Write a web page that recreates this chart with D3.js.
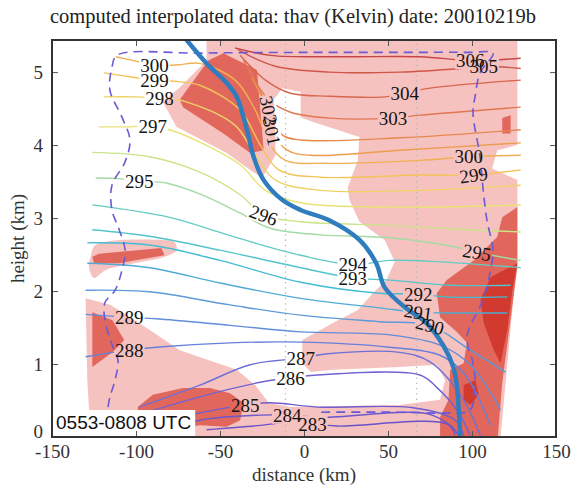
<!DOCTYPE html>
<html>
<head>
<meta charset="utf-8">
<script src="https://cdn.jsdelivr.net/npm/d3@7"></script>
<style>
  body { margin: 0; background: #fff; }
  svg text { font-family: "Liberation Serif", "Times New Roman", serif; }
</style>
</head>
<body>
<svg id="chart"></svg>
<script>
// ---- data (distance km, height km) ----
const xTicks = [-150, -100, -50, 0, 50, 100, 150];
const yTicks = [0, 1, 2, 3, 4, 5];
const levels = [283, 284, 285, 286, 287, 288, 289, 290, 291, 292, 293, 294, 295, 296, 297, 298, 299, 300, 301, 302, 303, 304, 305, 306];

// isentropes, one polyline per level
const th283 = [[-58,0.10],[-26,0.16],[-5,0.21],[5,0.18],[20,0.15],[85,0.18],[90,0.03]];
const th284 = [[-86,0.05],[-62,0.23],[-26,0.30],[-10,0.30],[11,0.27],[73,0.32],[87,0.16],[92,0.02]];
const th285 = [[-99,0.16],[-62,0.33],[-35,0.44],[-20,0.47],[8,0.41],[65,0.40],[90,0.23],[95,0.02]];
const th286 = [[-105,0.26],[-62,0.55],[-26,0.75],[-8,0.81],[8,0.85],[69,0.85],[79,0.68],[91,0.37],[99,0.02]];
const th287 = [[-98,0.41],[-62,0.71],[-32,0.99],[-2,1.08],[14,1.14],[57,1.16],[75,1.03],[93,0.58],[105,0.02]];
const th288 = [[-130,1.10],[-114,1.16],[-104,1.19],[-88,1.23],[-44,1.29],[-2,1.30],[51,1.23],[81,1.12],[96,0.85],[111,0.16]];
const th289 = [[-130,1.68],[-104,1.64],[-88,1.62],[-44,1.53],[-2,1.44],[51,1.40],[81,1.26],[99,0.99],[117,0.37]];
const th290 = [[-130,2.01],[-92,1.99],[-44,1.81],[-2,1.67],[45,1.58],[75,1.53],[99,1.19],[120,0.89]];
const th291 = [[-129,2.38],[-92,2.32],[-50,2.11],[-2,1.90],[45,1.77],[68,1.71],[84,1.70],[121,1.70]];
const th292 = [[-129,2.66],[-92,2.63],[-50,2.42],[-2,2.12],[45,1.97],[68,1.96],[84,1.92],[121,1.92]];
const th293 = [[-126,2.84],[-92,2.75],[-50,2.56],[-2,2.32],[29,2.18],[51,2.15],[87,2.08],[123,2.08]];
const th294 = [[-126,3.18],[-80,3.01],[-51,2.81],[-31,2.67],[-2,2.49],[29,2.36],[51,2.42],[81,2.40],[129,2.32]];
const th295 = [[-124,3.55],[-110,3.54],[-98,3.51],[-82,3.48],[-61,3.32],[-39,3.08],[-20,2.86],[10,2.77],[51,2.73],[91,2.60],[103,2.53],[129,2.42]];
const th296 = [[-126,3.90],[-92,3.84],[-62,3.63],[-38,3.32],[-24,3.04],[-2,2.95],[51,2.90],[81,2.86],[129,2.81]];
const th297 = [[-122,4.25],[-104,4.25],[-90,4.26],[-80,4.21],[-62,4.04],[-38,3.73],[-23,3.38],[-2,3.21],[57,3.15],[129,3.18]];
const th298 = [[-119,4.66],[-100,4.66],[-86,4.64],[-71,4.60],[-41,4.27],[-29,3.86],[-17,3.52],[10,3.38],[69,3.38],[129,3.45]];
const th299 = [[-119,4.99],[-102,4.93],[-89,4.89],[-75,4.87],[-62,4.82],[-38,4.48],[-26,4.00],[-15,3.66],[10,3.56],[69,3.59],[101,3.59],[129,3.66]];
const th300 = [[-112,5.21],[-100,5.15],[-89,5.09],[-75,5.10],[-62,5.12],[-41,4.89],[-29,4.48],[-20,4.00],[-11,3.79],[15,3.75],[69,3.79],[98,3.84],[129,3.86]];
const th301 = [[-31,4.92],[-23,4.55],[-19,4.19],[-10,3.93],[4,3.86],[57,3.93],[129,4.03]];
const th302 = [[-33,5.05],[-25,4.68],[-21,4.48],[-13,4.14],[-2,4.07],[57,4.10],[129,4.21]];
const th303 = [[-36,5.16],[-21,4.62],[-8,4.45],[15,4.37],[53,4.37],[69,4.41],[129,4.52]];
const th304 = [[-38,5.23],[-23,4.89],[-8,4.71],[15,4.67],[48,4.66],[60,4.71],[75,4.78],[129,4.89]];
const th305 = [[-39,5.30],[-17,5.08],[15,5.00],[57,5.00],[93,5.05],[107,5.08],[129,5.05]];
const th306 = [[-41,5.33],[-20,5.23],[21,5.21],[69,5.21],[99,5.16],[129,5.19]];
const isolines = [th283, th284, th285, th286, th287, th288, th289, th290, th291, th292, th293, th294,
                  th295, th296, th297, th298, th299, th300, th301, th302, th303, th304, th305, th306];

// contour labels
const labelText = ['283','284','285','286','287','288','289','290','291','292','293','294','295','295','296',
                   '297','298','299','299','300','300','301','302','303','304','305','306'];
const labelAt = [[5,0.18],[-10,0.30],[-35,0.44],[-8,0.81],[-2,1.08],[-104,1.19],[-104,1.64],[75,1.53],[68,1.71],
                 [68,1.96],[29,2.18],[29,2.36],[-98,3.51],[103,2.53],[-24,3.04],[-90,4.26],[-86,4.64],[-89,4.89],
                 [101,3.59],[-89,5.09],[98,3.84],[-19,4.19],[-21,4.48],[53,4.37],[60,4.71],[107,5.08],[99,5.16]];
const labelTilt = [0,0,0,0,0,0,0,15,8,0,0,0,0,10,20,0,0,0,-8,0,0,78,78,0,0,0,0];

// shaded areas
const pinkMain = [[-58,5.5],[127,5.5],[127,4.00],[115,3.93],[112,3.68],[127,3.52],[127,2.49],[117,0],[-127,0],
  [-129,0.78],[-130,1.90],[-115,1.81],[-92,1.47],[-74,1.19],[-40,0.92],[-29,0.71],[-21,0.47],[-8,0.41],[57,0.44],
  [81,0.51],[84,0.78],[79,0.99],[57,0.96],[17,0.92],[4,0.89],[-1,1.01],[-1,1.33],[17,1.56],[32,1.74],[41,1.97],
  [49,2.15],[54,2.40],[48,2.70],[33,2.95],[27,3.25],[26,3.42],[32,3.79],[33,4.11],[5,4.32],[-2,4.38],[-2,4.73],
  [-13,4.78],[-18,4.62],[-17,4.21],[-17,3.86],[-25,3.55],[-32,3.66],[-46,3.89],[-76,4.25],[-84,4.59],[-74,4.79],[-58,5.16]];
const pinkLeft = [[-127,2.47],[-124,2.63],[-85,2.70],[-77,2.67],[-76,2.56],[-83,2.47],[-101,2.38],[-118,2.29],[-125,2.18],[-128,2.33]];
const redLeft = [[-126,2.47],[-122,2.51],[-85,2.59],[-83,2.49],[-101,2.42],[-110,2.38],[-125,2.38]];
const redTopLeft = [[-74,4.62],[-57,5.16],[-48,5.26],[-28,5.03],[-24,3.93],[-32,3.89],[-48,4.16],[-72,4.52]];
const redRight = [[127,3.15],[118,3.01],[115,2.74],[101,2.42],[85,2.15],[79,1.97],[81,1.64],[91,1.44],[97,1.29],
  [95,1.01],[87,0.92],[86,0.51],[81,0.27],[81,-0.1],[115,-0.1],[118,0.74],[127,2.33]];
const redTopRight = [[118,4.37],[123,4.41],[123,4.16],[118,4.16]];
const redLowLeft = [[-126,1.71],[-114,1.60],[-107,1.33],[-114,1.16],[-126,0.96]];
const redBottom = [[-99,0.41],[-90,0.58],[-72,0.67],[-56,0.67],[-44,0.60],[-36,0.47],[-38,0.23],[-46,0.14],[-62,0.16],[-80,0.10],[-98,0.16]];
const darkRight = [[127,2.38],[111,2.19],[105,1.88],[107,1.56],[113,1.19],[117,1.01],[121,1.47],[124,2.01]];
const darkSpot = [[95,0.71],[102,0.78],[104,0.58],[99,0.44],[95,0.51]];

// moving boundary (dashed), front (thick blue), dotted sounding columns
const boundary = [[-116.7,0.41],[-115.5,0.55],[-112.5,0.78],[-110.7,1.05],[-113.7,1.23],[-118.5,1.60],[-118.5,1.84],
  [-112.5,2.01],[-108.3,2.29],[-106.5,2.56],[-110,2.84],[-114.3,3.11],[-114.3,3.45],[-106.5,3.77],[-103.6,4.07],
  [-108.3,4.38],[-115.5,4.75],[-114.3,5.07],[-111.3,5.23],[-62,5.26],[-2,5.27],[57,5.27],[99,5.27],[112.5,5.26],
  [104.8,4.99],[101.8,4.66],[100.6,4.44],[104.8,3.84],[106.5,3.42],[108.9,2.97],[112.5,2.56],[110.7,2.25],
  [106.5,1.88],[97,1.37],[100.6,1.01],[101.8,0.74],[98.8,0.37],[85.1,0.33],[57,0.34],[7.7,0.34]];
const front = [[-72,5.5],[-58,5.12],[-46,4.85],[-40,4.66],[-34,4.21],[-30,3.84],[-24,3.52],[-13,3.25],[-2,3.11],
  [15,2.97],[33,2.70],[43,2.38],[48,2.05],[61,1.76],[72,1.58],[83,1.25],[89,0.95],[91,0.70],[93,-0.05]];
const columns = [-11, 67];

// ---- drawing ----
const W = 571, H = 486;
const m = {left: 52, right: 15, top: 40, bottom: 49};
const svg = d3.select("#chart").attr("width", W).attr("height", H);

const x = d3.scaleLinear().domain([-150, 150]).range([m.left, W - m.right]);
const y = d3.scaleLinear().domain([0, 5.44]).range([H - m.bottom, m.top]);

const color = d3.scaleLinear()
  .domain([283, 286, 288, 290, 292, 294, 295, 296, 297, 299, 301, 303, 306])
  .range(["#6a52c8", "#7162d4", "#6680da", "#5c9ad8", "#44bcd2", "#62ccc4", "#a4daa4", "#cce48a",
          "#e8e274", "#f2c45a", "#ec9c4c", "#e07652", "#c84646"]);

const defs = svg.append("defs");
defs.append("clipPath").attr("id", "plot")
  .append("rect").attr("x", m.left).attr("y", m.top)
  .attr("width", W - m.left - m.right).attr("height", H - m.top - m.bottom);
const mask = defs.append("mask").attr("id", "gaps")
  .attr("maskUnits", "userSpaceOnUse").attr("x", 0).attr("y", 0).attr("width", W).attr("height", H);
mask.append("rect").attr("width", W).attr("height", H).attr("fill", "white");

const plot = svg.append("g").attr("clip-path", "url(#plot)");

const area = d3.line().x(d => x(d[0])).y(d => y(d[1])).curve(d3.curveLinearClosed);
const blob = d3.line().x(d => x(d[0])).y(d => y(d[1])).curve(d3.curveCatmullRomClosed.alpha(0.5));
const line = d3.line().x(d => x(d[0])).y(d => y(d[1])).curve(d3.curveCatmullRom.alpha(0.5));

const pink = "#f6c2c0", red = "#e1675d", dark = "#d2392f";
plot.append("path").attr("d", area(pinkMain)).attr("fill", pink);
plot.append("path").attr("d", blob(pinkLeft)).attr("fill", pink);
[redLeft, redTopLeft, redRight, redTopRight, redLowLeft, redBottom].forEach(p =>
  plot.append("path").attr("d", area(p)).attr("fill", red));
[darkRight, darkSpot].forEach(p =>
  plot.append("path").attr("d", area(p)).attr("fill", dark));

// dotted columns
plot.selectAll(".col").data(columns).join("line")
  .attr("x1", d => x(d)).attr("x2", d => x(d))
  .attr("y1", y(0)).attr("y2", y(5.44))
  .attr("stroke", "#b8b8b8").attr("stroke-width", 1.3).attr("stroke-dasharray", "1.3,4");

// isentropes
const iso = plot.append("g").attr("mask", "url(#gaps)");
iso.selectAll("path").data(isolines).join("path")
  .attr("d", line)
  .attr("fill", "none")
  .attr("stroke", (d, i) => color(levels[i]))
  .attr("stroke-width", 1.4);

// dashed boundary
plot.append("path").attr("d", line(boundary))
  .attr("fill", "none").attr("stroke", "#6a5ad6")
  .attr("stroke-width", 1.6).attr("stroke-dasharray", "9,6");

// front
plot.append("path").attr("d", line(front))
  .attr("fill", "none").attr("stroke", "#2f7dbf")
  .attr("stroke-width", 4.5).attr("stroke-linecap", "round");

// contour labels, with gaps cut in the lines
const lbl = svg.append("g");
labelText.forEach((t, i) => {
  const tr = `translate(${x(labelAt[i][0])},${y(labelAt[i][1])}) rotate(${labelTilt[i]})`;
  const node = lbl.append("text").attr("transform", tr)
    .attr("text-anchor", "middle").attr("dy", "0.35em")
    .attr("font-size", 19).attr("fill", "#141414").text(t).node();
  const bb = node.getBBox();
  mask.append("rect").attr("transform", tr)
    .attr("x", bb.x - 1).attr("y", bb.y + 2).attr("width", bb.width + 2).attr("height", bb.height - 4)
    .attr("fill", "black");
});

// time stamp box
const stamp = svg.append("g");
const st = stamp.append("text").attr("x", m.left + 4).attr("y", H - m.bottom - 8)
  .style("font-family", "'Liberation Sans', Arial, sans-serif")
  .attr("font-size", 19).attr("fill", "#111").text("0553-0808 UTC");
const sb = st.node().getBBox();
stamp.insert("rect", "text").attr("x", m.left).attr("y", sb.y - 2)
  .attr("width", sb.width + 8).attr("height", H - m.bottom - sb.y + 2).attr("fill", "#fff");

// axes
const fmt = d => String(d);
const gx = svg.append("g").attr("transform", `translate(0,${H - m.bottom})`)
  .call(d3.axisBottom(x).tickValues(xTicks).tickFormat(fmt).tickSizeInner(-6).tickSizeOuter(0).tickPadding(8));
const gy = svg.append("g").attr("transform", `translate(${m.left},0)`)
  .call(d3.axisLeft(y).tickValues(yTicks).tickFormat(fmt).tickSizeInner(-6).tickSizeOuter(0).tickPadding(9));
const gt = svg.append("g").attr("transform", `translate(0,${m.top})`)
  .call(d3.axisTop(x).tickValues(xTicks).tickFormat("").tickSizeInner(-6).tickSizeOuter(0));
const gr = svg.append("g").attr("transform", `translate(${W - m.right},0)`)
  .call(d3.axisRight(y).tickValues(yTicks).tickFormat("").tickSizeInner(-6).tickSizeOuter(0));
[gx, gy, gt, gr].forEach(g => {
  g.select(".domain").remove();
  g.selectAll("line").attr("stroke", "#555");
  g.selectAll("text").attr("font-size", 19).attr("fill", "#333")
    .style("font-family", "'Liberation Serif', 'Times New Roman', serif");
});
gy.selectAll(".tick").filter(d => d === 0).select("text").attr("dy", "0.05em");

svg.append("rect").attr("x", m.left).attr("y", m.top)
  .attr("width", W - m.left - m.right).attr("height", H - m.top - m.bottom)
  .attr("fill", "none").attr("stroke", "#333").attr("stroke-width", 2);

// titles
svg.append("text").attr("x", 293).attr("y", 23).attr("text-anchor", "middle")
  .attr("font-size", 20.5).attr("fill", "#222")
  .text("computed interpolated data: thav (Kelvin) date: 20010219b");
svg.append("text").attr("x", (m.left + W - m.right) / 2).attr("y", 481).attr("text-anchor", "middle")
  .attr("font-size", 19).attr("fill", "#333").text("distance (km)");
svg.append("text").attr("transform", `translate(17,${(m.top + H - m.bottom) / 2}) rotate(-90)`)
  .attr("text-anchor", "middle").attr("dy", "0.35em")
  .attr("font-size", 19).attr("fill", "#333").text("height (km)");
</script>
</body>
</html>
